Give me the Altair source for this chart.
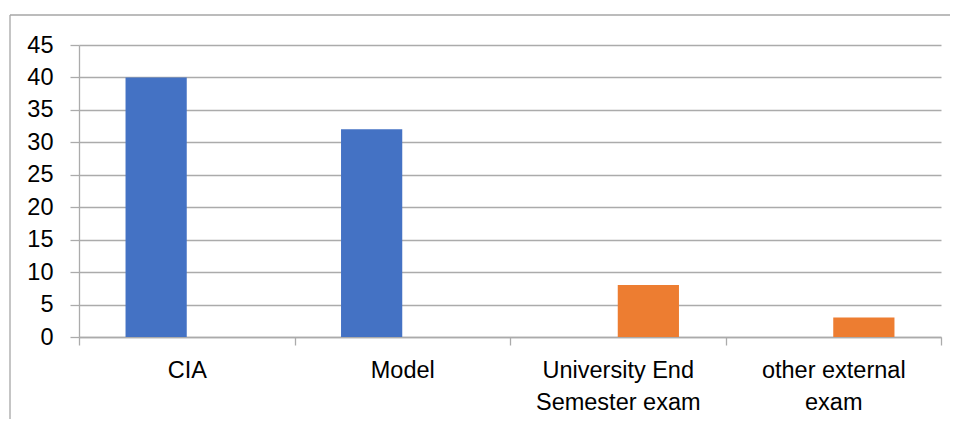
import altair as alt
import pandas as pd

categories = ["CIA", "Model", "University End Semester exam", "other external exam"]
series_names = ["Series1", "Series2"]
series1_values = [40, 32, None, None]
series2_values = [None, None, 8, 3]
y_ticks = [0, 5, 10, 15, 20, 25, 30, 35, 40, 45]
label_lines = {
    "University End Semester exam": ["University End", "Semester exam"],
    "other external exam": ["other external", "exam"],
}
colors = ["#4472C4", "#ED7D31"]

rows = []
for name, vals in zip(series_names, [series1_values, series2_values]):
    for c, v in zip(categories, vals):
        if v is not None:
            rows.append({"category": c, "series": name, "value": v})
df = pd.DataFrame(rows)

expr = "datum.label"
for k, lines in label_lines.items():
    arr = "[" + ",".join("'" + s + "'" for s in lines) + "]"
    expr = f"datum.label == '{k}' ? {arr} : ({expr})"

grid_color = "#ababab"
font_size = 23.5

bars = alt.Chart(df).mark_bar().encode(
    x=alt.X(
        "category:N",
        sort=categories,
        scale=alt.Scale(domain=categories, paddingInner=0, paddingOuter=0),
        axis=alt.Axis(
            title=None,
            labelAngle=0,
            labelExpr=expr,
            labelFont="Liberation Sans",
            labelFontSize=font_size,
            labelColor="#000000",
            labelLineHeight=32,
            labelPadding=13,
            tickBand="extent",
            tickSize=8,
            tickColor=grid_color,
            domainColor=grid_color,
            grid=False,
            labelBaseline="top",
        ),
    ),
    xOffset=alt.XOffset(
        "series:N",
        scale=alt.Scale(domain=series_names, paddingInner=0, paddingOuter=0.76),
    ),
    y=alt.Y(
        "value:Q",
        scale=alt.Scale(domain=[0, 45], nice=False),
        axis=alt.Axis(
            title=None,
            values=y_ticks,
            labelFont="Liberation Sans",
            labelFontSize=font_size,
            labelColor="#000000",
            labelPadding=17,
            tickSize=9,
            tickColor=grid_color,
            domainColor=grid_color,
            gridColor=grid_color,
        ),
    ),
    color=alt.Color(
        "series:N",
        scale=alt.Scale(domain=series_names, range=colors),
        legend=None,
    ),
)

border_data = alt.Data(values=[{"a": 1}])
left_border = alt.Chart(border_data).mark_rule(color="#a6a6a6", strokeWidth=1.3).encode(
    x=alt.value(-69), y=alt.value(-30), y2=alt.value(420)
)
top_border = alt.Chart(border_data).mark_rule(color="#a6a6a6", strokeWidth=1.3).encode(
    x=alt.value(-69), x2=alt.value(920), y=alt.value(-30)
)

chart = alt.layer(bars, left_border, top_border).properties(
    width=862,
    height=292,
    autosize=alt.AutoSizeParams(type="none"),
    padding={"left": 71, "top": 37, "right": 9, "bottom": 82},
).configure_view(strokeWidth=0).configure_axis(domainWidth=1.3, tickWidth=1.3, gridWidth=1.3)

chart.save("out.html", embed_options={"renderer": "svg", "actions": False})
